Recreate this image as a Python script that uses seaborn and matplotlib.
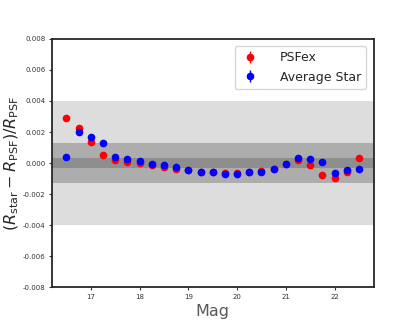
import matplotlib
matplotlib.use('Agg')
import matplotlib.pyplot as plt
import seaborn as sns
import numpy as np
import pandas as pd

# magnitude bins
mag = [16.5, 16.75, 17.0, 17.25, 17.5, 17.75, 18.0, 18.25, 18.5, 18.75,
       19.0, 19.25, 19.5, 19.75, 20.0, 20.25, 20.5, 20.75, 21.0, 21.25,
       21.5, 21.75, 22.0, 22.25, 22.5]

# fractional size residuals
psfex = [0.0029, 0.00228, 0.00133, 0.00052, 0.00021, 0.0001, 0.00003, -0.0001, -0.00026, -0.00039,
         -0.00046, -0.00057, -0.0006, -0.00066, -0.00066, -0.0006, -0.0005, -0.00035, -0.00005, 0.00021,
         -0.00015, -0.00078, -0.00093, -0.00056, 0.0003]
avg_star = [0.0004, 0.00197, 0.00168, 0.00131, 0.00039, 0.00028, 0.00015, -0.00005, -0.00013, -0.00024,
            -0.00045, -0.00056, -0.0006, -0.00067, -0.00069, -0.0006, -0.00056, -0.00035, -0.00005, 0.00032,
            0.00026, 0.00006, -0.00063, -0.00043, -0.00035]
err = [0.00004, 0.00004, 0.00004, 0.00004, 0.00004, 0.00004, 0.00004, 0.00004, 0.00004, 0.00004,
       0.00004, 0.00004, 0.00004, 0.00004, 0.00004, 0.00004, 0.00004, 0.00004, 0.00004, 0.00004,
       0.00005, 0.00005, 0.00006, 0.00006, 0.00008]

# requirement bands
bands = [(0.004, '#dddddd'), (0.0013, '#adadad'), (0.0003, '#8e8e8e')]

sns.set_style("ticks")
plt.rcParams['font.family'] = ['DejaVu Sans']

df = pd.DataFrame({'mag': mag * 2,
                   'resid': psfex + avg_star,
                   'err': err * 2,
                   'which': ['PSFex'] * len(mag) + ['Average Star'] * len(mag)})

fig, ax = plt.subplots(figsize=(4.15, 3.23), dpi=100)
fig.subplots_adjust(left=0.125, right=0.9, bottom=0.11, top=0.88)

for half, col in bands:
    ax.axhspan(-half, half, color=col, lw=0, zorder=0)

for name, col in [('PSFex', 'red'), ('Average Star', 'blue')]:
    sub = df[df['which'] == name]
    ax.errorbar(sub['mag'], sub['resid'], yerr=sub['err'], fmt='o', color=col,
                ms=4.5, elinewidth=1, label=name, zorder=3)

ax.set_xlim(16.2, 22.8)
ax.set_ylim(-0.008, 0.008)
ax.set_xticks([17, 18, 19, 20, 21, 22])
ax.set_yticks(np.arange(-0.008, 0.0081, 0.002))
ax.yaxis.set_major_formatter(matplotlib.ticker.FormatStrFormatter('%.3f'))
ax.tick_params(labelsize=5, length=2.5, width=0.8, pad=2, color='0.2', labelcolor='0.2')
for s in ax.spines.values():
    s.set_visible(True)
    s.set_color('0.15')
    s.set_linewidth(1.3)

ax.set_xlabel('Mag', fontsize=11.5, color='0.35', labelpad=3)
ax.set_ylabel(r'$(R_{\rm star} - R_{\rm PSF})/R_{\rm PSF}$', fontsize=11.5, labelpad=1.5)
ax.legend(loc='upper right', fontsize=9, frameon=True, handletextpad=1.6,
          handlelength=1.6, borderaxespad=0.6)

fig.savefig('out.png', dpi=100)
